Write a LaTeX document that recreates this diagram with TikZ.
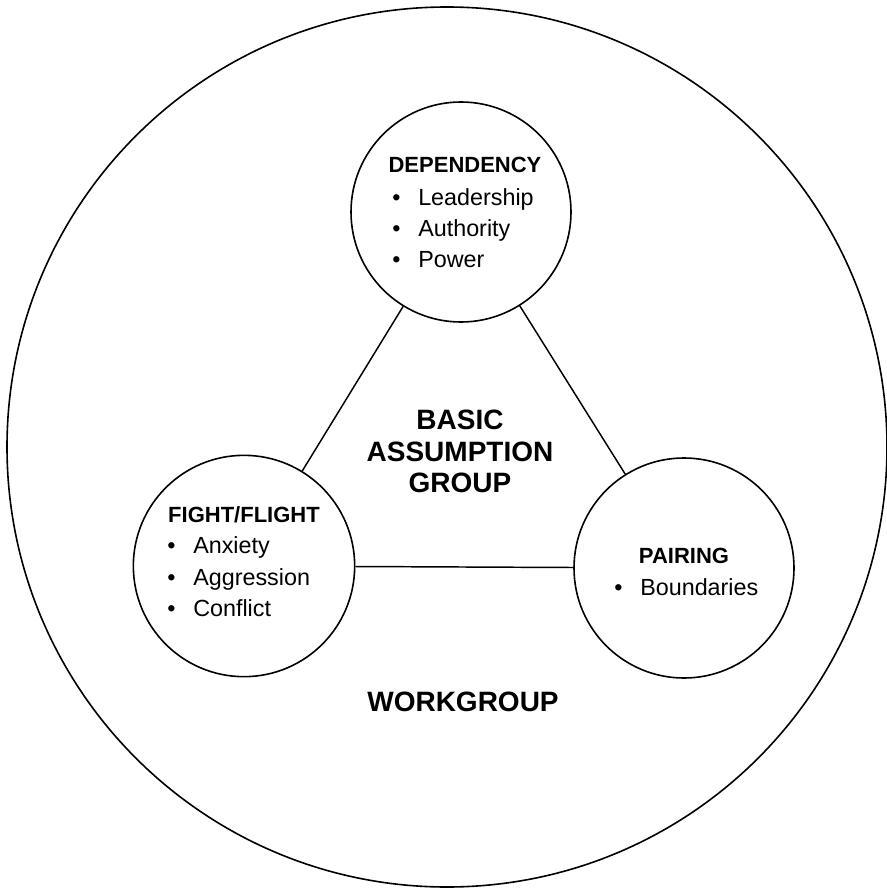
\documentclass[tikz,border=0pt]{standalone}
\usepackage{fontspec}
\setmainfont{Liberation Sans}
\newcommand{\bul}[1]{\makebox[19.5pt][l]{\textbullet}#1}
\begin{document}
\begin{tikzpicture}[x=0.75pt,y=-0.75pt,
  ring/.style={draw, circle, line width=1.2pt, inner sep=0pt},
  head/.style={anchor=base, inner sep=0pt, font=\fontsize{16.5pt}{20pt}\selectfont\bfseries},
  item/.style={anchor=base west, inner sep=0pt, font=\fontsize{17.5pt}{20pt}\selectfont},
  big/.style={anchor=base, inner sep=0pt, font=\fontsize{21pt}{25pt}\selectfont\bfseries},
  link/.style={line width=1.1pt}]
\useasboundingbox (0,0) rectangle (887,891);
\node[ring, minimum size=660pt] (outer) at (447,447) {};
\node[ring, minimum size=165pt] (dep) at (461,212) {};
\node[ring, minimum size=166pt] (ff) at (244,566) {};
\node[ring, minimum size=165pt] (pair) at (684,568) {};
\draw[link] (dep) -- (ff);
\draw[link] (dep) -- (pair);
\draw[link] (ff) -- (pair);
% dependency
\node[head] (deph) at (465,173) {DEPENDENCY};
\node[item] (dep1) at (392,205) {\bul{Leadership}};
\node[item] (dep2) at (392,236) {\bul{Authority}};
\node[item] (dep3) at (392,267) {\bul{Power}};
% fight/flight
\node[head] (ffh) at (244,522) {FIGHT/FLIGHT};
\node[item] (ff1) at (167,553) {\bul{Anxiety}};
\node[item] (ff2) at (167,585) {\bul{Aggression}};
\node[item] (ff3) at (167,616) {\bul{Conflict}};
% pairing
\node[head] (pairh) at (684,563) {PAIRING};
\node[item] (pair1) at (614,595) {\bul{Boundaries}};
% centre labels
\node[big] (ba1) at (460,429) {BASIC};
\node[big] (ba2) at (460,461) {ASSUMPTION};
\node[big] (ba3) at (460,492) {GROUP};
\node[big] (wg) at (463,711) {WORKGROUP};
\end{tikzpicture}
\end{document}
